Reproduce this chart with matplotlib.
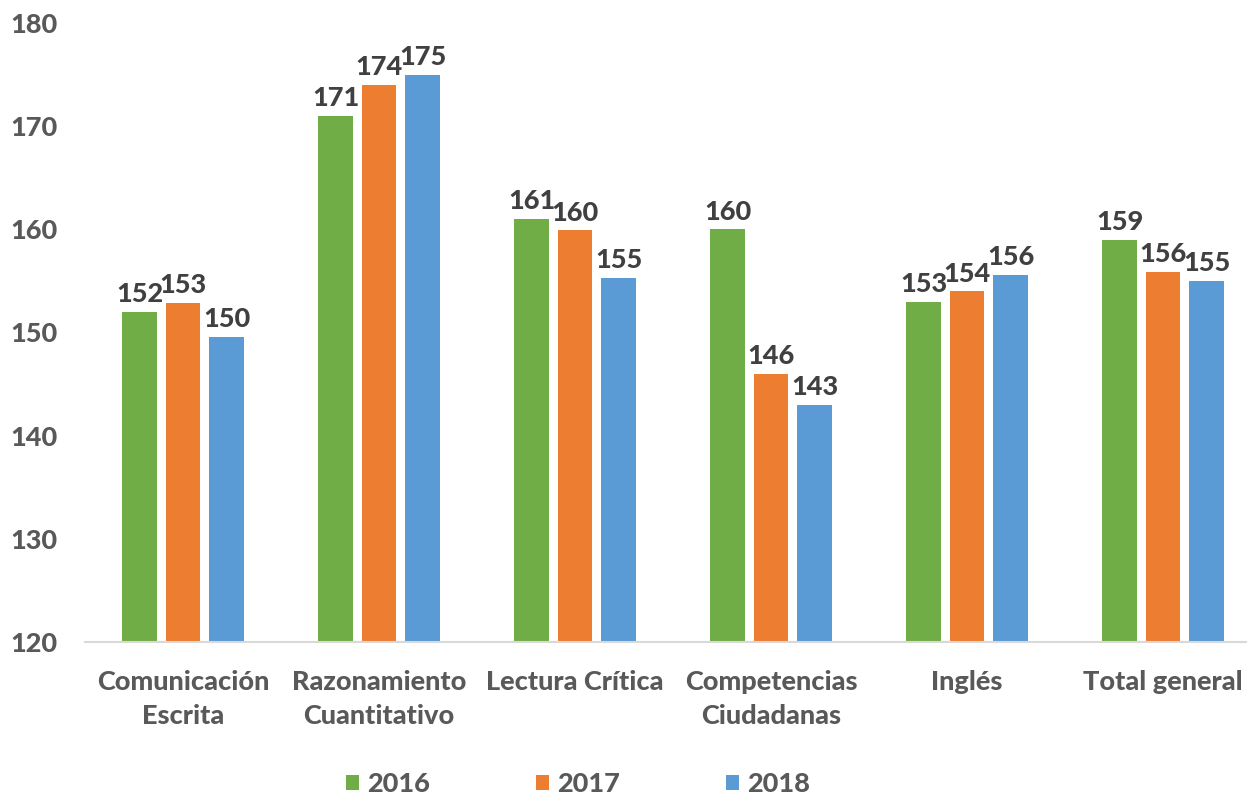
import matplotlib.pyplot as plt
import numpy as np

# Data
categories = ['Comunicación\nEscrita', 'Razonamiento\nCuantitativo', 'Lectura Crítica',
              'Competencias\nCiudadanas', 'Inglés', 'Total general']
years = ['2016', '2017', '2018']
v2016 = [152.0, 171.0, 161.0, 160.0, 153.0, 159.0]
v2017 = [152.9, 174.0, 159.9, 146.0, 154.0, 155.9]
v2018 = [149.6, 175.0, 155.3, 143.0, 155.6, 155.0]
y_ticks = [120, 130, 140, 150, 160, 170, 180]

colors = ['#70ad47', '#ed7d31', '#5b9bd5']
font = 'Lato'
fs = 19.5
wt = 'black'

fig = plt.figure(figsize=(12.47, 8.01), dpi=100)
ax = fig.add_axes([85 / 1247, 1 - 642 / 801, 1 - 85 / 1247, (642 - 23) / 801])

x = np.arange(len(categories))
width = 0.176
pitch = 0.222
bars = []
for i, (vals, yr, c) in enumerate(zip([v2016, v2017, v2018], years, colors)):
    b = ax.bar(x + (i - 1) * pitch, [v - 120 for v in vals], width, bottom=120,
               color=c, label=yr, zorder=2)
    bars.append(b)
    for xi, v in zip(x + (i - 1) * pitch, vals):
        ax.annotate(f'{v:.0f}', (xi, v), xytext=(0, 4), textcoords='offset points',
                    ha='center', va='bottom', fontsize=fs, fontweight=wt,
                    color='#404040', family=font)

ax.set_ylim(120, 180)
ax.set_xlim(-0.5, (1247 - 183) / 196)
ax.set_yticks(y_ticks)
ax.set_xticks(x)
ax.set_xticklabels(categories, fontsize=fs, fontweight=wt, color='#595959',
                   family=font, linespacing=1.5)
for lbl in ax.get_yticklabels():
    lbl.set_fontsize(fs)
    lbl.set_fontweight(wt)
    lbl.set_color('#595959')
    lbl.set_family(font)
ax.tick_params(axis='both', length=0)
ax.tick_params(axis='y', pad=20)
ax.tick_params(axis='x', pad=20)

for s in ['top', 'right', 'left']:
    ax.spines[s].set_visible(False)
ax.spines['bottom'].set_color('#d9d9d9')
ax.spines['bottom'].set_linewidth(1.5)

leg = fig.legend(handles=bars, labels=years, loc='center', bbox_to_anchor=(578 / 1247, 1 - 784 / 801),
                 ncol=3, frameon=False, handlelength=0.5, handleheight=0.5,
                 handletextpad=0.3, columnspacing=3.9,
                 prop={'family': font, 'weight': wt, 'size': fs})
for t in leg.get_texts():
    t.set_color('#595959')

fig.savefig('out.png', dpi=100, facecolor='white')
